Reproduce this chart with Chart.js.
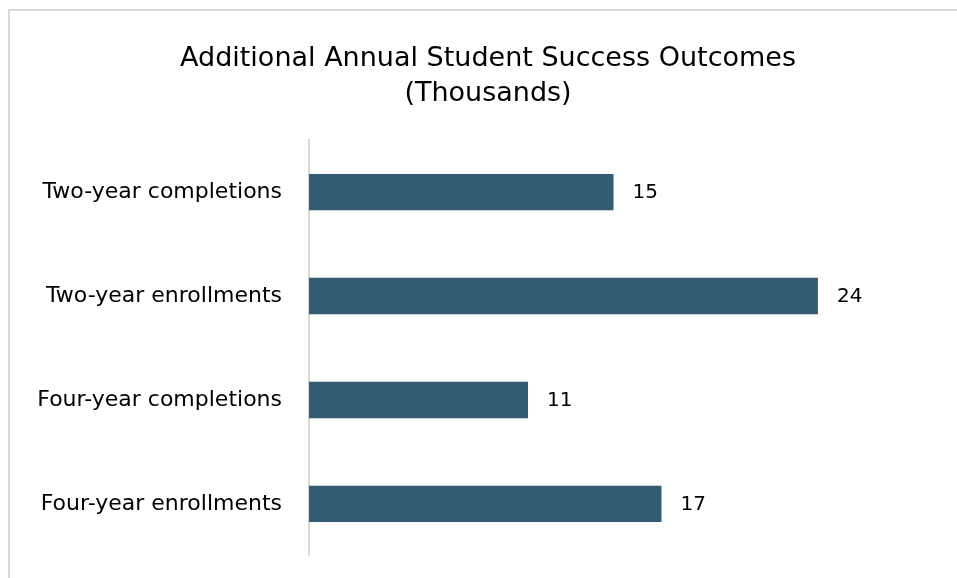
<!DOCTYPE html>
<html>
<head>
<meta charset="utf-8">
<script src="https://cdn.jsdelivr.net/npm/chart.js@4"></script>
<style>
  html, body { margin: 0; padding: 0; background: #fff; overflow: hidden; }
  #box {
    position: absolute; left: 8px; top: 9px;
    width: 956px; height: 585px;
    border: 2px solid #d9d9d9; background: #fff;
  }
  #box canvas { display: block; }
</style>
</head>
<body>
<div id="box"><canvas id="chart" width="956" height="585"></canvas></div>
<script>
// categories, top to bottom
const categories = [
    "Two-year completions",
    "Two-year enrollments",
    "Four-year completions",
    "Four-year enrollments",
];
// outcomes in thousands (labels show rounded values)
const outcomes = [14.6, 24.4, 10.5, 16.9];
const titleLines = ["Additional Annual Student Success Outcomes", "(Thousands)"];

const FONT = "'DejaVu Sans', 'Open Sans', sans-serif";
const BAR = "#335b74";

const valueLabels = {
    id: "valueLabels",
    afterDatasetsDraw(chart) {
        const ctx = chart.ctx;
        const meta = chart.getDatasetMeta(0);
        ctx.save();
        ctx.font = "20px " + FONT;
        ctx.fillStyle = "#000";
        ctx.textAlign = "left";
        ctx.textBaseline = "middle";
        meta.data.forEach((bar, i) => {
            ctx.fillText(String(Math.round(outcomes[i])), bar.x + 19, bar.y + 1);
        });
        ctx.restore();
    },
};

new Chart(document.getElementById("chart"), {
    type: "bar",
    data: {
        labels: categories,
        datasets: [{
            data: outcomes,
            backgroundColor: BAR,
            borderWidth: 0,
            barPercentage: 0.35,
            categoryPercentage: 1,
        }],
    },
    plugins: [valueLabels],
    options: {
        indexAxis: "y",
        responsive: false,
        maintainAspectRatio: false,
        animation: false,
        layout: { padding: { top: 0, right: 0, bottom: 0, left: 0 } },
        plugins: {
            legend: { display: false },
            tooltip: { enabled: false },
            title: {
                display: true,
                text: titleLines,
                color: "#000",
                font: { family: FONT, size: 27, weight: "normal", lineHeight: 1.3 },
                padding: { top: 30, bottom: 29 },
            },
        },
        scales: {
            x: { display: false, min: 0, max: 31.5 },
            y: {
                afterFit(scale) { scale.width = 299; },
                grid: { display: false, drawTicks: false },
                border: { display: true, color: "#d9d9d9", width: 2 },
                ticks: {
                    color: "#000",
                    padding: 27,
                    font: { family: FONT, size: 22 },
                },
            },
        },
    },
});
</script>
</body>
</html>
